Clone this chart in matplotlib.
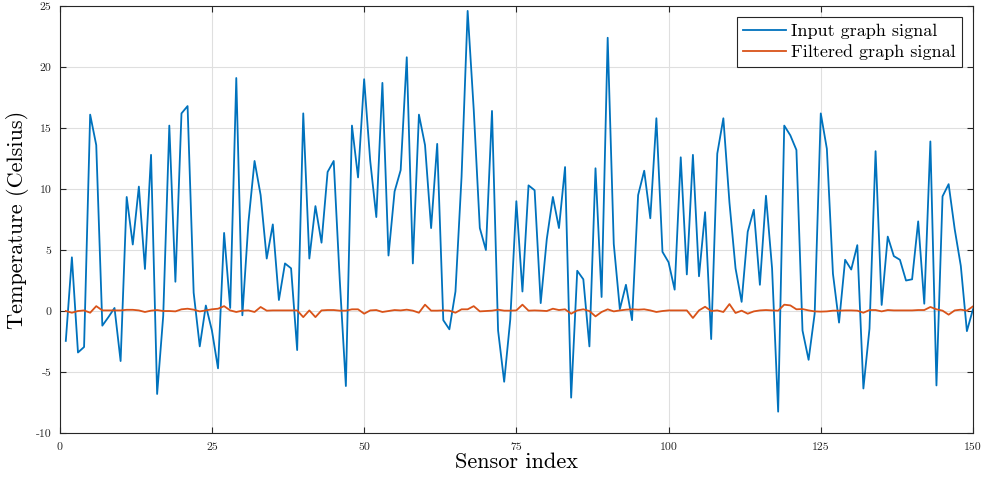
import numpy as np
import matplotlib
matplotlib.use("Agg")
import matplotlib.pyplot as plt

# sensor readings
sensor_index = np.arange(1, 151)

input_signal = [
    -2.45, 4.4, -3.4, -2.95, 16.1, 13.6, -1.2, -0.5, 0.25, -4.1,
    9.35, 5.45, 10.2, 3.45, 12.8, -6.8, -0.4, 15.2, 2.4, 16.2,
    16.8, 1.5, -2.9, 0.45, -1.6, -4.7, 6.4, 0.25, 19.1, -0.35,
    7.3, 12.3, 9.5, 4.3, 7.1, 0.9, 3.9, 3.5, -3.2, 16.2,
    4.3, 8.6, 5.6, 11.4, 12.3, 2.5, -6.15, 15.2, 10.95, 19.0,
    12.3, 7.7, 18.7, 4.55, 9.8, 11.55, 20.8, 3.9, 16.1, 13.6,
    6.8, 13.7, -0.75, -1.5, 1.6, 11.0, 24.6, 16.5, 6.8, 5.0,
    16.4, -1.6, -5.8, -0.7, 9.0, 1.6, 10.3, 9.9, 0.65, 5.9,
    9.35, 6.8, 11.8, -7.1, 3.3, 2.6, -2.9, 11.7, 1.15, 22.4,
    5.5, 0.15, 2.15, -0.75, 9.5, 11.5, 7.6, 15.8, 4.85, 4.0,
    1.75, 12.6, 3.0, 12.8, 2.85, 8.1, -2.3, 12.9, 15.8, 8.9,
    3.5, 0.75, 6.5, 8.3, 2.15, 9.45, 3.5, -8.25, 15.2, 14.4,
    13.2, -1.6, -4.0, -0.2, 16.2, 13.3, 3.05, -0.95, 4.2, 3.4,
    5.4, -6.35, -1.45, 13.1, 0.5, 6.1, 4.5, 4.2, 2.5, 2.6,
    7.35, 0.6, 13.9, -6.1, 9.4, 10.4, 6.7, 3.7, -1.65, 0.15,
]

filtered_signal = [
    0.0, -0.14, 0.0, 0.05, -0.14, 0.4, 0.05, 0.05, 0.05, 0.05,
    0.1, 0.1, 0.05, -0.08, 0.03, 0.08, 0.0, 0.0, -0.03, 0.14,
    0.19, 0.11, -0.03, 0.05, 0.14, 0.19, 0.4, 0.05, -0.08, 0.03,
    0.05, -0.08, 0.33, 0.03, 0.05, 0.05, 0.05, 0.05, 0.05, -0.5,
    0.05, -0.5, 0.05, 0.08, 0.08, 0.03, 0.03, 0.14, 0.14, -0.22,
    0.05, 0.08, -0.08, 0.0, 0.08, 0.05, 0.11, 0.03, -0.14, 0.52,
    0.03, 0.03, 0.05, 0.03, -0.14, 0.14, 0.14, 0.4, -0.03, 0.0,
    0.03, 0.11, 0.03, 0.03, 0.05, 0.52, 0.03, 0.05, 0.03, 0.0,
    0.19, 0.08, 0.14, -0.22, 0.05, 0.14, 0.0, -0.44, -0.08, 0.14,
    -0.03, 0.05, 0.11, 0.14, 0.11, 0.14, 0.05, -0.08, 0.0, 0.05,
    0.05, 0.05, 0.05, -0.57, 0.05, 0.35, 0.0, 0.05, -0.08, 0.57,
    -0.16, 0.03, -0.22, -0.03, 0.05, 0.08, 0.05, 0.03, 0.52, 0.46,
    0.14, 0.16, 0.05, -0.03, -0.05, -0.03, 0.03, 0.03, 0.05, 0.05,
    0.03, -0.14, 0.08, 0.08, -0.03, 0.08, 0.05, 0.05, 0.05, 0.05,
    0.08, 0.08, 0.33, 0.14, 0.03, -0.3, 0.05, 0.11, 0.03, 0.38,
]

x_ticks = [0, 25, 50, 75, 100, 125, 150]
y_ticks = [-10, -5, 0, 5, 10, 15, 20, 25]

plt.rcParams['font.family'] = ['cmr10', 'DejaVu Serif']
plt.rcParams['axes.unicode_minus'] = False

fig = plt.figure(figsize=(9.87, 4.83), dpi=100)
ax = fig.add_axes([0.0605, 0.1035, 0.9253, 0.884])

ax.plot(sensor_index, input_signal, color='#0072BD', linewidth=1.3,
        label='Input graph signal')
ax.plot(sensor_index, filtered_signal, color='#D95319', linewidth=1.3,
        label='Filtered graph signal')

ax.set_xlim(0, 150)
ax.set_ylim(-10, 25)
ax.set_xticks(x_ticks)
ax.set_yticks(y_ticks)
ax.grid(True, color='#dfdfdf', linewidth=0.8)
ax.set_axisbelow(True)

for spine in ax.spines.values():
    spine.set_color('#262626')
    spine.set_linewidth(0.8)
ax.tick_params(direction='in', top=True, right=True, length=4,
               color='#262626', labelsize=8.5, labelcolor='#262626')
ax.tick_params(axis='x', pad=7)
ax.tick_params(axis='y', pad=6)

ax.set_xlabel('Sensor index', fontsize=16, labelpad=0)
ax.set_ylabel('Temperature (Celsius)', fontsize=16, labelpad=5)

leg = ax.legend(loc='upper right', prop={'size': 13},
                fancybox=False, framealpha=1, edgecolor='#262626',
                borderaxespad=0.62, handlelength=2.4, handletextpad=0.25,
                labelspacing=0.3, borderpad=0.35)
leg.get_frame().set_linewidth(0.8)

fig.savefig('out.png', dpi=100)
